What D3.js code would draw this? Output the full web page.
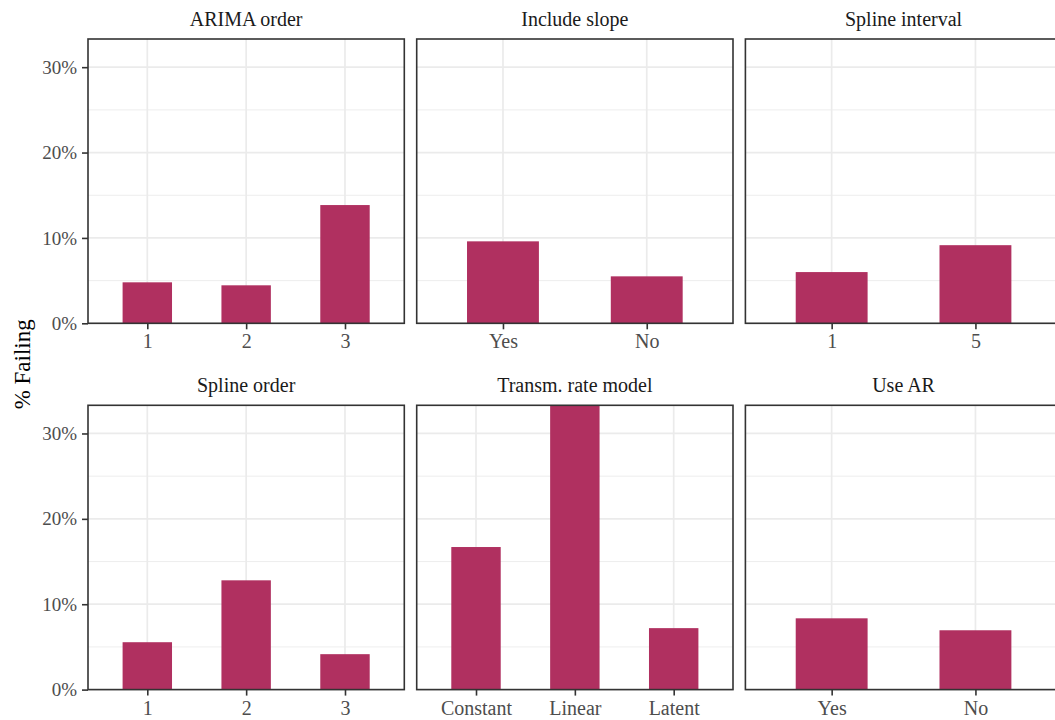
<!DOCTYPE html>
<html>
<head>
<meta charset="utf-8">
<script src="https://cdn.jsdelivr.net/npm/d3@7"></script>
<style>
  html, body { margin: 0; padding: 0; background: #fff; }
  svg { display: block; font-family: "Liberation Serif", "DejaVu Serif", serif; }
</style>
</head>
<body>
<svg id="chart" width="1055" height="720"></svg>
<script>
// Facet titles, in panel order (row-wise, three per row)
const facetTitles = ["ARIMA order", "Include slope", "Spline interval",
                     "Spline order", "Transm. rate model", "Use AR"];

// Categories and failure rates (%) for each facet
const arimaOrderCats = ["1", "2", "3"];
const arimaOrderVals = [4.8, 4.45, 13.85];

const includeSlopeCats = ["Yes", "No"];
const includeSlopeVals = [9.6, 5.5];

const splineIntervalCats = ["1", "5"];
const splineIntervalVals = [6.0, 9.15];

const splineOrderCats = ["1", "2", "3"];
const splineOrderVals = [5.55, 12.8, 4.15];

const transmModelCats = ["Constant", "Linear", "Latent"];
const transmModelVals = [16.7, 33.3, 7.2];

const useARCats = ["Yes", "No"];
const useARVals = [8.35, 6.95];

// Y axis ticks
const yMajorTicks = [0, 10, 20, 30];
const yMinorTicks = [5, 15, 25];
const yTickLabels = ["0%", "10%", "20%", "30%"];
const yTitle = "% Failing";

const facetCats = [arimaOrderCats, includeSlopeCats, splineIntervalCats,
                   splineOrderCats, transmModelCats, useARCats];
const facetVals = [arimaOrderVals, includeSlopeVals, splineIntervalVals,
                   splineOrderVals, transmModelVals, useARVals];

const facets = facetTitles.map((t, i) => ({
  title: t,
  data: facetCats[i].map((c, j) => ({ cat: c, val: facetVals[i][j] }))
}));

// Panel layout
const panelLeft = 88, panelW = 316.3, colGap = 12.4;
const rowTops = [39, 405.3], panelH = 284.3;
const barColor = "#B03060";
const gridColor = "#EBEBEB";
const inkColor = "#333333";

const svg = d3.select("#chart");

// Shared y scale; the tallest bar reaches the top edge of the panel
const yMax = d3.max(facetVals.flat());
const y = d3.scaleLinear().domain([0, yMax]).range([panelH, 0]);

facets.forEach((f, i) => {
  const col = i % 3, row = Math.floor(i / 3);
  const px = panelLeft + col * (panelW + colGap);
  const py = rowTops[row];
  const g = svg.append("g").attr("transform", `translate(${px},${py})`);

  const x = d3.scalePoint()
    .domain(f.data.map(d => d.cat))
    .range([0, panelW])
    .padding(0.6);
  const barW = x.step() * 0.5;

  // minor grid
  g.append("g").selectAll("line").data(yMinorTicks).join("line")
    .attr("x1", 0).attr("x2", panelW)
    .attr("y1", d => y(d)).attr("y2", d => y(d))
    .attr("stroke", gridColor).attr("stroke-width", 0.9);
  // major grid
  g.append("g").selectAll("line").data(yMajorTicks).join("line")
    .attr("x1", 0).attr("x2", panelW)
    .attr("y1", d => y(d)).attr("y2", d => y(d))
    .attr("stroke", gridColor).attr("stroke-width", 1.7);
  g.append("g").selectAll("line").data(x.domain()).join("line")
    .attr("x1", d => x(d)).attr("x2", d => x(d))
    .attr("y1", 0).attr("y2", panelH)
    .attr("stroke", gridColor).attr("stroke-width", 1.7);

  // bars
  g.append("g").selectAll("rect").data(f.data).join("rect")
    .attr("x", d => x(d.cat) - barW / 2)
    .attr("width", barW)
    .attr("y", d => y(Math.min(d.val, yMax)))
    .attr("height", d => y(0) - y(Math.min(d.val, yMax)))
    .attr("fill", barColor);

  // panel border
  g.append("rect")
    .attr("x", 0).attr("y", 0).attr("width", panelW).attr("height", panelH)
    .attr("fill", "none").attr("stroke", inkColor).attr("stroke-width", 1.6);

  // x axis
  const xa = g.append("g").attr("transform", `translate(0,${panelH})`)
    .call(d3.axisBottom(x).tickSize(6).tickPadding(5));
  xa.select(".domain").remove();
  xa.selectAll(".tick line").attr("stroke", inkColor).attr("stroke-width", 1.6);
  xa.selectAll(".tick text")
    .attr("fill", "#4D4D4D").style("font-size", "20px")
    .style("font-family", "Liberation Serif, serif");

  // y axis on first column only
  if (col === 0) {
    const ya = g.append("g")
      .call(d3.axisLeft(y).tickValues(yMajorTicks)
        .tickFormat((d, k) => yTickLabels[k]).tickSize(6).tickPadding(5));
    ya.select(".domain").remove();
    ya.selectAll(".tick line").attr("stroke", inkColor).attr("stroke-width", 1.6);
    ya.selectAll(".tick text")
      .attr("fill", "#4D4D4D").style("font-size", "19px")
      .style("font-family", "Liberation Serif, serif");
  }

  // facet strip title
  g.append("text")
    .attr("x", panelW / 2).attr("y", -13)
    .attr("text-anchor", "middle")
    .attr("fill", "#1A1A1A")
    .style("font-size", "20px")
    .text(f.title);
});

// shared y-axis title
const midY = (rowTops[0] + rowTops[1] + panelH) / 2;
svg.append("text")
  .attr("transform", `translate(30,${midY}) rotate(-90)`)
  .attr("text-anchor", "middle")
  .attr("fill", "#000")
  .style("font-size", "23px")
  .text(yTitle);
</script>
</body>
</html>
